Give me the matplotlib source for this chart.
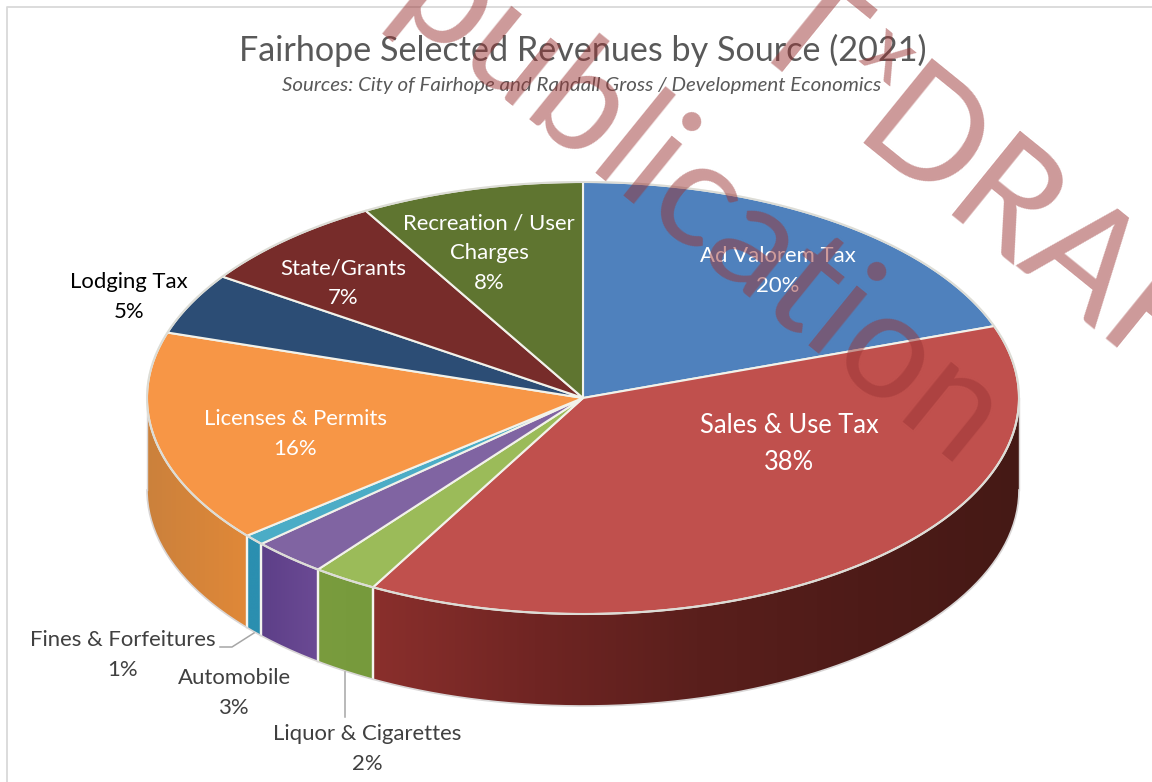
import numpy as np
import matplotlib
matplotlib.use("Agg")
import matplotlib.pyplot as plt
from matplotlib.colors import LinearSegmentedColormap
from matplotlib.patches import Polygon

plt.rcParams['font.family'] = ['Lato', 'DejaVu Sans']

title = "Fairhope Selected Revenues by Source (2021)"
subtitle = "Sources: City of Fairhope and Randall Gross / Development Economics"

# clockwise from 12 o'clock, shares read from the slice edges (labels show them rounded)
sources = ["Ad Valorem Tax", "Sales & Use Tax", "Liquor & Cigarettes", "Automobile",
           "Fines & Forfeitures", "Licenses & Permits", "Lodging Tax", "State/Grants",
           "Recreation / User\nCharges"]
shares = [19.6, 38.4, 2.4, 2.8, 0.8, 15.9, 4.6, 7.2, 8.3]

top_colors = ["#4f81bd", "#c0504d", "#9bbb59", "#8064a2", "#4bacc6", "#f79646",
              "#2c4d75", "#772c2a", "#5f7530"]
# side wall colours, left to right
side_colors = {1: ["#8a2f2c", "#702523", "#5a1f1c", "#4e1b18", "#451915"],
               2: ["#7a9c3e", "#769a3c"], 3: ["#5d3f88", "#6b4a94"],
               4: ["#2b8fb0", "#2b8fb0"], 5: ["#cb813c", "#e08838"]}

# label centre in pixels, colour, size
label_pos = {0: (778, 271, "white", 15.9), 1: (789, 444, "white", 18.4),
             2: (367, 749, "#404040", 15.9), 3: (234, 693, "#404040", 15.9),
             4: (123, 655, "#404040", 15.9), 5: (295, 434, "white", 15.9),
             6: (129, 297, "black", 15.9), 7: (343, 283, "white", 15.9),
             8: (489, 253, "white", 15.9)}

CX, CY, RX, RY, DEPTH = 583, 398, 436, 216, 92


def rim(a):
    return CX + RX * np.sin(a), CY - RY * np.cos(a)


fig = plt.figure(figsize=(11.52, 7.82), dpi=100)
ax = fig.add_axes([0, 0, 1, 1])

edges = np.radians(np.cumsum([0] + shares) * 3.6)

# side walls, only the front half of the rim shows
for i, cols in side_colors.items():
    a0 = max(edges[i], np.pi / 2)
    a1 = min(edges[i + 1], 3 * np.pi / 2)
    a = np.linspace(a0, a1, 80)
    x, y = rim(a)
    pts = np.r_[np.c_[x, y], np.c_[x[::-1], y[::-1] + DEPTH]]
    poly = Polygon(pts, closed=True, fc="none", ec="none")
    ax.add_patch(poly)
    cmap = LinearSegmentedColormap.from_list("side", cols)
    im = ax.imshow(np.linspace(0, 1, 256).reshape(1, -1), cmap=cmap, aspect="auto",
                   extent=[x.min(), x.max(), y.max() + DEPTH, y.min()], zorder=2)
    im.set_clip_path(poly)
    # separator on the wall
    for e in (edges[i], edges[i + 1]):
        if np.pi / 2 < e < 3 * np.pi / 2:
            ex, ey = rim(e)
            ax.plot([ex, ex], [ey, ey + DEPTH], color="#f4f4ee", lw=1.6, zorder=3)

# outline of the wall
a = np.linspace(np.pi / 2, 3 * np.pi / 2, 200)
x, y = rim(a)
ax.plot(x, y + DEPTH, color="#d9d6d6", lw=1.2, zorder=3)
for a_end in (np.pi / 2, 3 * np.pi / 2):
    ex, ey = rim(a_end)
    ax.plot([ex, ex], [ey, ey + DEPTH], color="#d9d6d6", lw=1.0, zorder=3)

# top of the pie
for i in range(len(shares)):
    a = np.linspace(edges[i], edges[i + 1], 120)
    x, y = rim(a)
    pts = np.r_[[[CX, CY]], np.c_[x, y]]
    ax.add_patch(Polygon(pts, closed=True, fc=top_colors[i], ec="#f2f2ea", lw=1.5,
                         joinstyle="round", zorder=4))

a = np.linspace(0, 2 * np.pi, 400)
x, y = rim(a)
ax.plot(x, y, color="#dcdcd6", lw=1.4, zorder=5)

# data labels
for i, (lx, ly, col, size) in label_pos.items():
    ax.text(lx, ly, f"{sources[i]}\n{round(shares[i])}%", ha="center", va="center", color=col,
            fontsize=size, linespacing=1.6, zorder=6)

# leader lines
ax.plot([220, 232, 254], [647, 647, 633], color="#a6a6a6", lw=1.1, zorder=6)
ax.plot([345, 345], [672, 717], color="#a6a6a6", lw=1.1, zorder=6)

ax.text(582.5, 50, title, ha="center", va="center", color="#595959", fontsize=24.6, zorder=6)
ax.text(582, 85, subtitle, ha="center", va="center", color="#595959", fontsize=14.75,
        style="italic", zorder=6)

# chart frame
ax.plot([7, 7, 1152], [782, 7, 7], color="#d9d9d9", lw=1.3, zorder=1)

# watermark
wm = dict(color=(155 / 255, 53 / 255, 53 / 255), alpha=0.5, rotation=-39,
          rotation_mode="anchor", ha="left", va="baseline", zorder=8)
ax.text(387, 13, "publication", fontsize=109, **wm)
ax.text(848, 142, "DRAFT", fontsize=109, **wm)
ax.text(741, 40, "T", fontsize=109, **wm)
ax.text(856, 60, "x", fontsize=62, **wm)

ax.set_xlim(0, 1152)
ax.set_ylim(782, 0)
ax.axis("off")

fig.savefig("out.png", dpi=100)
